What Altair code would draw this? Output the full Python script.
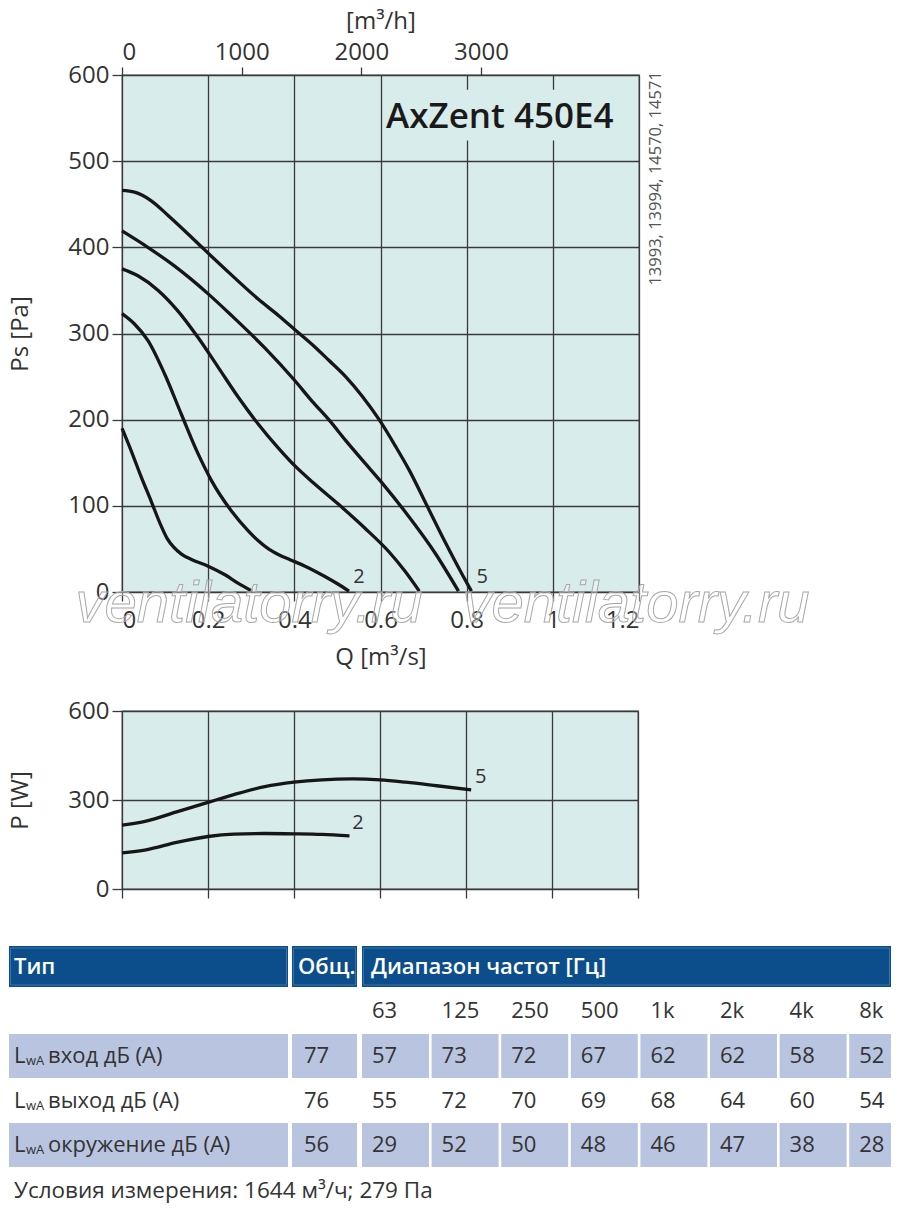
import altair as alt
import pandas as pd

# ---------------- data ----------------
CURVE_IDS = ["1", "2", "3", "4", "5"]
PS_Q = {
    "1": [0, 0.022, 0.045, 0.068, 0.088, 0.105, 0.120, 0.138, 0.160, 0.200, 0.239, 0.270, 0.302],
    "2": [0, 0.029, 0.060, 0.099, 0.138, 0.177, 0.208, 0.254, 0.293, 0.315, 0.340, 0.365, 0.390, 0.425, 0.471, 0.502, 0.527],
    "3": [0, 0.037, 0.084, 0.130, 0.177, 0.223, 0.270, 0.316, 0.363, 0.402, 0.448, 0.502, 0.564, 0.619, 0.657, 0.690],
    "4": [0, 0.060, 0.120, 0.200, 0.254, 0.332, 0.400, 0.442, 0.480, 0.519, 0.558, 0.603, 0.665, 0.727, 0.781],
    "5": [0, 0.029, 0.068, 0.107, 0.146, 0.192, 0.254, 0.316, 0.363, 0.400, 0.442, 0.480, 0.519, 0.558, 0.597, 0.635, 0.666, 0.708, 0.750, 0.790, 0.811],
}
PS_VAL = {
    "1": [190, 163, 133, 105, 80, 62, 52, 44, 38, 30, 20, 10, 1],
    "2": [323, 311, 292, 253, 206, 160, 129, 94, 71, 60, 50, 43, 37.5, 30, 18, 9, 1],
    "3": [375, 367, 350, 326, 295, 261, 226, 195, 167, 146, 125, 102, 74, 47, 24, 1],
    "4": [419, 400, 379, 346, 321, 283, 246, 221, 200, 176, 153, 127, 88, 45, 1],
    "5": [466, 464, 454, 437, 419, 397, 368, 340, 321, 305, 287, 269, 250, 227, 200, 169, 142, 100, 58, 20, 1],
}
POWER_IDS = ["2", "5"]
P_Q = {
    "2": [0, 0.056, 0.127, 0.200, 0.260, 0.332, 0.400, 0.465, 0.529],
    "5": [0, 0.056, 0.127, 0.200, 0.260, 0.332, 0.400, 0.465, 0.536, 0.600, 0.660, 0.732, 0.812],
}
P_VAL = {
    "2": [122, 132, 157, 177, 185, 187, 186, 184, 179],
    "5": [215, 229, 260, 292, 318, 345, 360, 368, 371, 368, 360, 348, 334],
}
Q_TICKS = [0, 0.2, 0.4, 0.6, 0.8, 1.0, 1.2]
PS_TICKS = [0, 100, 200, 300, 400, 500, 600]
P_TICKS = [0, 300, 600]
MH_TICKS = [0, 1000, 2000, 3000]

MODEL = "AxZent 450E4"
ARTICLES = "13993, 13994, 14570, 14571"
WATERMARK = "ventilatorry.ru"

FREQS = ["63", "125", "250", "500", "1k", "2k", "4k", "8k"]
ROW_NAMES = ["вход дБ (A)", "выход дБ (A)", "окружение дБ (A)"]
ROW_TOTAL = [77, 76, 56]
ROW_BANDS = [
    [57, 73, 72, 67, 62, 62, 58, 52],
    [55, 72, 70, 69, 68, 64, 60, 54],
    [29, 52, 50, 48, 46, 47, 38, 28],
]
HEADERS = ["Тип", "Общ.", "Диапазон частот [Гц]"]
FOOTER = "Условия измерения: 1644 м³/ч; 279 Па"

# ---------------- style ----------------
FONT = "Open Sans"
TXT = "#333333"
BG = "#d8ecec"
GRID = "#3a3a3a"
LINE = "#161616"
BLUE = "#0c4e8b"
SHADE = "#b9c5e0"

Q_MAX = 1.2
xscale = alt.Scale(domain=[0, Q_MAX], nice=False, zero=False)
yscale = alt.Scale(domain=[0, 600], nice=False, zero=False)

x_axis = alt.Axis(values=Q_TICKS, format="~g", title="Q [m³/s]", grid=True, gridColor=GRID,
                  gridWidth=1.3, domain=False, tickSize=9, tickColor=GRID, tickWidth=1.3,
                  labelPadding=7, titlePadding=13)
y_axis = alt.Axis(values=PS_TICKS, title="Ps [Pa]", grid=True, gridColor=GRID, gridWidth=1.3,
                  domain=False, tickSize=10, tickColor=GRID, tickWidth=1.3, labelPadding=3,
                  titlePadding=35)

def X(field):
    return alt.X(field, type="quantitative", scale=xscale, axis=x_axis)

def Y(field):
    return alt.Y(field, type="quantitative", scale=yscale, axis=y_axis)

rows = []
for c in CURVE_IDS:
    for i, (q, p) in enumerate(zip(PS_Q[c], PS_VAL[c])):
        rows.append({"curve": c, "i": i, "Q": q, "Ps": p})
ps_df = pd.DataFrame(rows)

curves = alt.Chart(ps_df).mark_line(color=LINE, strokeWidth=3.3, interpolate="monotone").encode(
    x=X("Q"), y=Y("Ps"), detail="curve:N", order="i:Q")

box_df = pd.DataFrame([{"Q": 0.61, "Q2": 1.14, "Ps": 524, "Ps2": 583}])
box = alt.Chart(box_df).mark_rect(color=BG).encode(
    x=X("Q"), x2="Q2", y=Y("Ps"), y2="Ps2")

title_df = pd.DataFrame([{"Q": 0.877, "Ps": 551, "t": MODEL}])
title = alt.Chart(title_df).mark_text(font=FONT, fontSize=35, fontWeight=600, color="#1a1a1a",
                                      align="center", baseline="middle").encode(
    x=X("Q"), y=Y("Ps"), text="t:N")

lab_df = pd.DataFrame([{"Q": 0.55, "Ps": 17, "t": "2"}, {"Q": 0.836, "Ps": 17, "t": "5"}])
labels = alt.Chart(lab_df).mark_text(font=FONT, fontSize=20, color=TXT, align="center",
                                     baseline="middle").encode(x=X("Q"), y=Y("Ps"), text="t:N")

side_df = pd.DataFrame([{"Q": 1.24, "Ps": 480, "t": ARTICLES}])
side = alt.Chart(side_df).mark_text(font=FONT, fontSize=16.5, color="#555555", angle=270,
                                    align="center", baseline="middle").encode(
    x=X("Q"), y=Y("Ps"), text="t:N")

wm_df = pd.DataFrame([{"Q": 0.295, "Ps": -15, "t": WATERMARK}, {"Q": 1.193, "Ps": -15, "t": WATERMARK}])
wm = alt.Chart(wm_df).mark_text(font="Liberation Sans", fontSize=58, fontStyle="italic",
                                fill="white", fillOpacity=0.35, stroke="#a8a8a8", strokeWidth=1,
                                align="center", baseline="middle").encode(
    x=X("Q"), y=Y("Ps"), text="t:N")

inner = alt.layer(curves, box, title, labels, side, wm)

mh_df = pd.DataFrame({"h": [0, Q_MAX * 3600], "Ps": [600, 600]})
top_axis = alt.Chart(mh_df).mark_point(opacity=0).encode(
    x=alt.X("h:Q", scale=alt.Scale(domain=[0, Q_MAX * 3600], nice=False, zero=False),
            axis=alt.Axis(orient="top", values=MH_TICKS, format="d", title="[m³/h]", grid=False,
                          domain=False, tickSize=8, tickColor=GRID, tickWidth=1.3, labelPadding=3,
                          titlePadding=7)),
    y=Y("Ps"))

top = alt.layer(inner, top_axis).resolve_scale(x="independent").properties(
    width=517, height=517, view=alt.ViewBackground(fill=BG, stroke="#555555", strokeWidth=1.3))

# ---------------- power chart ----------------
prow = []
for c in POWER_IDS:
    for i, (q, p) in enumerate(zip(P_Q[c], P_VAL[c])):
        prow.append({"curve": c, "i": i, "Q": q, "P": p})
p_df = pd.DataFrame(prow)

px_axis = alt.Axis(values=Q_TICKS, labels=False, title=None, grid=True, gridColor=GRID, gridWidth=1.3,
                   domain=False, tickSize=9, tickColor=GRID, tickWidth=1.3)
py_axis = alt.Axis(values=P_TICKS, title="P [W]", grid=True, gridColor=GRID, gridWidth=1.3,
                   domain=False, tickSize=10, tickColor=GRID, tickWidth=1.3, labelPadding=3,
                   titlePadding=35)
pxs = alt.Scale(domain=[0, Q_MAX], nice=False, zero=False)
pys = alt.Scale(domain=[0, 600], nice=False, zero=False)

def PX(f):
    return alt.X(f, type="quantitative", scale=pxs, axis=px_axis)

def PY(f):
    return alt.Y(f, type="quantitative", scale=pys, axis=py_axis)

pcurves = alt.Chart(p_df).mark_line(color=LINE, strokeWidth=3.3, interpolate="monotone").encode(
    x=PX("Q"), y=PY("P"), detail="curve:N", order="i:Q")
plab_df = pd.DataFrame([{"Q": 0.834, "P": 378, "t": "5"}, {"Q": 0.549, "P": 224, "t": "2"}])
plabels = alt.Chart(plab_df).mark_text(font=FONT, fontSize=20, color=TXT, align="center",
                                       baseline="middle").encode(x=PX("Q"), y=PY("P"), text="t:N")
power = alt.layer(pcurves, plabels).properties(
    width=516, height=178, view=alt.ViewBackground(fill=BG, stroke="#555555", strokeWidth=1.3))

# ---------------- table (page-pixel units, left part drawn beyond the aligned plot edge) ----
X0, X1 = 123, 892
Y0, Y1 = 929, 1200
HDR = (945, 986)
ROWY = [(1033, 1077), (1078, 1121), (1122, 1166)]
FREQ_Y = 1010
FOOT_Y = 1190
HDR_COLS = [(10, 289), (293, 358), (363, X1)]
col_l = [10, 293] + [363 + 69.6 * k for k in range(8)]
col_r = [289, 358] + [min(363 + 69.6 * k + 67, X1) for k in range(8)]

rects = []
for a, b in HDR_COLS:
    rects.append({"x": a, "x2": b, "y": HDR[0], "y2": HDR[1], "c": BLUE})
for r in (0, 2):
    for a, b in zip(col_l, col_r):
        rects.append({"x": a, "x2": b, "y": ROWY[r][0], "y2": ROWY[r][1], "c": SHADE})
rect_df = pd.DataFrame(rects)

inset = pd.DataFrame([{"x": a + 1.5, "x2": b - 1.5, "y": HDR[0] + 2, "y2": HDR[1] - 2}
                      for a, b in HDR_COLS])

hy = (HDR[0] + HDR[1]) / 2
hdr_df = pd.DataFrame([{"x": 15, "y": hy, "t": HEADERS[0]},
                       {"x": 299, "y": hy, "t": HEADERS[1]},
                       {"x": 372, "y": hy, "t": HEADERS[2]}])

txt = []
def add(x, y, t, size=22):
    txt.append({"x": x, "y": y, "t": t, "s": size})

for k, f in enumerate(FREQS):
    add(col_l[2 + k] + 10, FREQ_Y, f)
for r in range(3):
    cy = (ROWY[r][0] + ROWY[r][1]) / 2
    add(15, cy, "L")
    add(27, cy + 5, "wA", 13)
    add(49, cy, ROW_NAMES[r])
    add(col_l[1] + 12, cy, str(ROW_TOTAL[r]))
    for k, v in enumerate(ROW_BANDS[r]):
        add(col_l[2 + k] + 10, cy, str(v))
add(15, FOOT_Y, FOOTER, 22.5)
txt_df = pd.DataFrame(txt)

tx = alt.Scale(domain=[X0, X1], nice=False, zero=False)
ty = alt.Scale(domain=[Y0, Y1], nice=False, zero=False, reverse=True)

def TX(f):
    return alt.X(f, type="quantitative", scale=tx, axis=None)

def TY(f):
    return alt.Y(f, type="quantitative", scale=ty, axis=None)

t_rect = alt.Chart(rect_df).mark_rect().encode(
    x=TX("x"), x2="x2", y=TY("y"), y2="y2", color=alt.Color("c:N", scale=None))
t_inset = alt.Chart(inset).mark_rect(fill=BLUE, stroke="#3a72ad", strokeWidth=1).encode(
    x=TX("x"), x2="x2", y=TY("y"), y2="y2")
t_hdr = alt.Chart(hdr_df).mark_text(font=FONT, fontSize=22, fontWeight=600, color="white",
                                    align="left", baseline="middle").encode(
    x=TX("x"), y=TY("y"), text="t:N")
t_text = alt.Chart(txt_df).mark_text(font=FONT, color=TXT, align="left", baseline="middle").encode(
    x=TX("x"), y=TY("y"), text="t:N", size=alt.Size("s:Q", scale=None))

table = alt.layer(t_rect, t_inset, t_hdr, t_text).properties(
    width=X1 - X0, height=Y1 - Y0, view=alt.ViewBackground(fill="white", strokeWidth=0))

chart = alt.vconcat(top, power, table, spacing=28).properties(padding=0).configure(
    font=FONT).configure_axis(
    labelFont=FONT, titleFont=FONT, labelFontSize=24, titleFontSize=24, labelColor=TXT,
    titleColor=TXT, titleFontWeight="normal").configure_view(strokeWidth=0)

chart.save("out.html", embed_options={"renderer": "svg", "actions": False})
